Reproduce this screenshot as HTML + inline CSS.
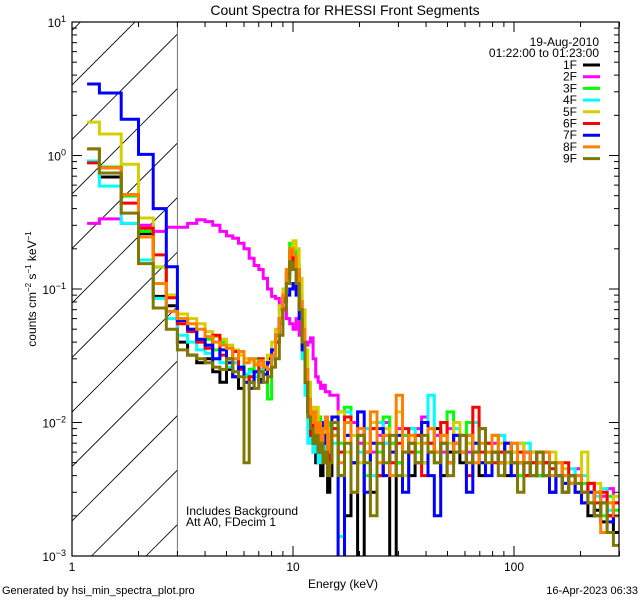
<!DOCTYPE html>
<html><head><meta charset="utf-8"><style>
body{margin:0;background:#fff;}
svg{display:block;font-family:"Liberation Sans",sans-serif;}
</style></head><body>
<svg id="chart" width="640" height="600" viewBox="0 0 640 600">
<rect x="0" y="0" width="640" height="600" fill="#fff"/>
<text x="345" y="15" font-size="14" text-anchor="middle">Count Spectra for RHESSI Front Segments</text>
<g id="hatch"></g>
<g id="series"></g>
<g id="axes"></g>
<text x="343" y="588" font-size="12" text-anchor="middle">Energy (keV)</text>
<text transform="translate(36,289) rotate(-90)" font-size="12" text-anchor="middle">counts cm<tspan font-size="8" dy="-5">−2</tspan><tspan dy="5"> s</tspan><tspan font-size="8" dy="-5">−1</tspan><tspan dy="5"> keV</tspan><tspan font-size="8" dy="-5">−1</tspan></text>
<text x="186" y="515" font-size="12">Includes Background</text>
<text x="186" y="526" font-size="12">Att A0, FDecim 1</text>
<text x="2" y="594" font-size="11">Generated by hsi_min_spectra_plot.pro</text>
<text x="638" y="594" font-size="11" text-anchor="end">16-Apr-2023 06:33</text>
<text x="599" y="46" font-size="12" text-anchor="end">19-Aug-2010</text>
<text x="599" y="57" font-size="12" text-anchor="end">01:22:00 to 01:23:00</text>
<g id="legend"></g>
</svg>
<script>
const seriesNames = ["1F","2F","3F","4F","5F","6F","7F","8F","9F"];
const seriesColors = ["#000000","#ff00ff","#00ff00","#00ffff","#d4d000","#ff0000","#0000ff","#ff8000","#807800"];
const loEdges = [1.17,1.33,1.67,2,2.33,2.67,3];
const hiEdges = [15,16.0,17.1,18.3,19.6,21.0,22.4,24.0,25.6,27.4,29.3,31.3,33.4,35.7,38.2,40.8,43.6,46.6,49.8,53.3,56.9,60.9,65.1,69.5,74.3,79.5,84.9,90.8,97.1,103.7,110.9,118.5,126.7,135.4,144.8,154.7,165.4,176.8,189.0,202.0,215.9,230.8,246.7,263.7,281.8,301];
const xTickLabels = ["1","10","100"];
const yTickExps = ["1","0","−1","−2","−3"];

const lo1F = [0.9,0.69,0.5,0.26,0.088,0.075];
const lo2F = [0.31,0.335,0.31,0.3,0.27,0.29];
const lo3F = [0.91,0.82,0.5,0.27,0.146,0.09];
const lo4F = [0.91,0.59,0.31,0.165,0.085,0.06];
const lo5F = [1.78,1.45,0.86,0.34,0.147,0.09];
const lo6F = [0.88,0.81,0.44,0.285,0.18,0.086];
const lo7F = [3.43,2.94,1.87,1.02,0.40,0.147];
const lo8F = [1.12,0.81,0.51,0.245,0.11,0.068];
const lo9F = [1.12,0.74,0.37,0.155,0.072,0.05];

const mid1F = [0.04,0.032,0.028,0.03,0.024,0.02,0.025,0.022,0.018,0.022,0.02,0.024,0.021,0.025,0.03,0.035,0.045,0.06,0.09,0.13,0.18,0.16,0.13,0.07,0.04,0.02,0.012,0.008,0.006,0.005,0.007,0.004,0.006,0.005,0.003,0.004];
const mid2F = [0.29,0.31,0.33,0.32,0.3,0.27,0.25,0.24,0.22,0.2,0.17,0.15,0.14,0.12,0.1,0.088,0.085,0.07,0.072,0.06,0.055,0.05,0.06,0.045,0.042,0.038,0.04,0.043,0.03,0.022,0.02,0.018,0.019,0.017,0.017,0.016];
const mid3F = [0.06,0.05,0.04,0.042,0.035,0.04,0.03,0.028,0.032,0.022,0.025,0.03,0.024,0.026,0.015,0.03,0.04,0.055,0.08,0.12,0.22,0.2,0.15,0.09,0.05,0.025,0.014,0.01,0.012,0.008,0.011,0.006,0.009,0.007,0.01,0.006];
const mid4F = [0.045,0.04,0.035,0.033,0.03,0.028,0.026,0.028,0.025,0.023,0.024,0.022,0.025,0.028,0.025,0.03,0.04,0.06,0.09,0.14,0.2,0.17,0.12,0.06,0.03,0.016,0.007,0.009,0.006,0.008,0.005,0.007,0.006,0.008,0.005,0.006];
const mid5F = [0.065,0.06,0.055,0.048,0.044,0.042,0.038,0.035,0.032,0.03,0.029,0.028,0.027,0.028,0.032,0.04,0.05,0.075,0.1,0.14,0.2,0.23,0.2,0.12,0.07,0.035,0.02,0.013,0.011,0.013,0.01,0.009,0.01,0.008,0.009,0.007];
const mid6F = [0.055,0.048,0.04,0.036,0.045,0.032,0.03,0.034,0.025,0.02,0.022,0.024,0.03,0.026,0.028,0.032,0.04,0.06,0.085,0.13,0.19,0.17,0.14,0.08,0.045,0.02,0.012,0.008,0.01,0.007,0.009,0.006,0.008,0.007,0.005,0.006];
const mid7F = [0.058,0.05,0.042,0.038,0.03,0.035,0.028,0.022,0.026,0.02,0.018,0.024,0.02,0.023,0.028,0.035,0.045,0.06,0.08,0.09,0.1,0.11,0.09,0.06,0.035,0.02,0.012,0.009,0.007,0.009,0.006,0.01,0.007,0.008,0.006,0.008];
const mid8F = [0.06,0.055,0.05,0.044,0.04,0.038,0.036,0.03,0.034,0.028,0.03,0.027,0.029,0.026,0.025,0.032,0.045,0.06,0.09,0.14,0.2,0.18,0.14,0.08,0.05,0.025,0.015,0.01,0.012,0.008,0.01,0.007,0.009,0.011,0.006,0.008];
const mid9F = [0.035,0.032,0.03,0.028,0.026,0.025,0.03,0.024,0.022,0.005,0.02,0.018,0.024,0.02,0.022,0.026,0.03,0.045,0.07,0.11,0.16,0.14,0.11,0.07,0.04,0.02,0.011,0.009,0.007,0.008,0.006,0.007,0.005,0.006,0.004,0.005];

const hi1F = [0.008,0.004,0.002,0.005,0.0008,0.006,0.003,0.004,0.007,0.0008,0.005,0.006,0.004,0.008,0.005,0.006,0.009,0.004,0.006,0.007,0.005,0.008,0.006,0.004,0.007,0.006,0.005,0.004,0.006,0.005,0.004,0.006,0.004,0.005,0.003,0.004,0.003,0.0035,0.003,0.0025,0.002,0.0022,0.0018,0.002,0.0015];
const hi2F = [0.016,0.012,0.008,0.01,0.007,0.009,0.006,0.008,0.01,0.007,0.009,0.008,0.006,0.009,0.011,0.007,0.008,0.006,0.009,0.007,0.008,0.006,0.007,0.009,0.006,0.007,0.008,0.006,0.005,0.007,0.006,0.005,0.006,0.005,0.004,0.005,0.004,0.004,0.0045,0.003,0.0035,0.003,0.0028,0.0032,0.0025];
const hi3F = [0.01,0.007,0.013,0.005,0.008,0.004,0.009,0.006,0.011,0.007,0.005,0.008,0.009,0.006,0.01,0.007,0.005,0.008,0.012,0.006,0.008,0.01,0.007,0.005,0.006,0.008,0.006,0.005,0.007,0.004,0.006,0.005,0.004,0.006,0.004,0.005,0.0035,0.004,0.003,0.0035,0.0025,0.003,0.002,0.0028,0.0022];
const hi4F = [0.007,0.0014,0.012,0.008,0.006,0.009,0.004,0.01,0.007,0.005,0.008,0.006,0.009,0.005,0.007,0.016,0.006,0.008,0.005,0.009,0.006,0.007,0.01,0.005,0.007,0.006,0.008,0.005,0.006,0.005,0.007,0.004,0.005,0.006,0.004,0.005,0.004,0.0045,0.0035,0.004,0.003,0.0028,0.0032,0.0022,0.0025];
const hi5F = [0.009,0.012,0.006,0.008,0.005,0.007,0.01,0.005,0.009,0.006,0.012,0.004,0.008,0.007,0.005,0.009,0.006,0.008,0.007,0.01,0.006,0.007,0.005,0.009,0.006,0.008,0.007,0.005,0.006,0.007,0.005,0.006,0.005,0.004,0.006,0.005,0.0045,0.004,0.0035,0.006,0.003,0.0035,0.003,0.0025,0.0028];
const hi6F = [0.009,0.006,0.011,0.005,0.008,0.006,0.009,0.004,0.008,0.005,0.007,0.009,0.006,0.008,0.004,0.007,0.006,0.01,0.005,0.008,0.006,0.004,0.013,0.006,0.007,0.005,0.006,0.007,0.005,0.006,0.004,0.005,0.006,0.005,0.0045,0.004,0.005,0.0035,0.004,0.003,0.0035,0.0025,0.003,0.002,0.0025];
const hi7F = [0.011,0.0006,0.008,0.005,0.012,0.003,0.007,0.009,0.004,0.006,0.008,0.003,0.007,0.005,0.01,0.004,0.002,0.007,0.005,0.008,0.006,0.003,0.007,0.005,0.004,0.006,0.005,0.007,0.004,0.005,0.006,0.004,0.005,0.004,0.003,0.004,0.0035,0.004,0.003,0.0025,0.003,0.002,0.0025,0.0018,0.002];
const hi8F = [0.008,0.005,0.01,0.003,0.009,0.006,0.012,0.005,0.008,0.004,0.016,0.006,0.008,0.005,0.007,0.009,0.006,0.008,0.005,0.007,0.006,0.008,0.005,0.007,0.006,0.008,0.005,0.006,0.007,0.005,0.006,0.004,0.005,0.006,0.004,0.005,0.004,0.0035,0.004,0.003,0.0025,0.003,0.0015,0.0025,0.002];
const hi9F = [0.01,0.004,0.007,0.003,0.008,0.005,0.002,0.007,0.005,0.008,0.004,0.006,0.007,0.005,0.008,0.006,0.005,0.007,0.004,0.006,0.008,0.005,0.006,0.009,0.005,0.006,0.004,0.006,0.005,0.003,0.005,0.004,0.006,0.004,0.005,0.004,0.003,0.004,0.0035,0.003,0.0025,0.002,0.0025,0.0015,0.0012];

const loSeries = [lo1F,lo2F,lo3F,lo4F,lo5F,lo6F,lo7F,lo8F,lo9F];
const midSeries = [mid1F,mid2F,mid3F,mid4F,mid5F,mid6F,mid7F,mid8F,mid9F];
const hiSeries = [hi1F,hi2F,hi3F,hi4F,hi5F,hi6F,hi7F,hi8F,hi9F];

const NS = "http://www.w3.org/2000/svg";
const X0 = 72, X1 = 619, Y0 = 22, Y1 = 556;
const DEC_X = 221, DEC_Y = 133.5;
function xScale(e){ return X0 + DEC_X * Math.log10(e); }
function yScale(v){ return Y0 + (1 - Math.log10(v)) * DEC_Y; }
function mk(tag, attrs, parent){ const el = document.createElementNS(NS, tag); for (const k in attrs) el.setAttribute(k, attrs[k]); parent.appendChild(el); return el; }

// edges
const midEdges = [];
for (let i = 0; i <= 36; i++) midEdges.push(3 + i / 3);
const allEdges = loEdges.concat(midEdges.slice(1), hiEdges.slice(1));

const svg = document.getElementById('chart');
const defs = mk('defs', {}, svg);
const cp = mk('clipPath', {id: 'plotclip'}, defs);
mk('rect', {x: X0, y: Y0, width: X1 - X0, height: Y1 - Y0}, cp);
const cp2 = mk('clipPath', {id: 'hatchclip'}, defs);
mk('rect', {x: X0, y: Y0, width: xScale(3) - X0, height: Y1 - Y0}, cp2);

// hatch
const hatch = document.getElementById('hatch');
hatch.setAttribute('clip-path', 'url(#hatchclip)');
for (let c = 157 - 54.5 * 3; c < 800; c += 54.5) {
  const ln = mk('line', {x1: c - Y1, y1: Y1, x2: c - Y0 + 0, y2: Y0, stroke: '#000', 'stroke-width': 0.8}, hatch);
  
  
}
const vline = mk('line', {x1: xScale(3), y1: Y0, x2: xScale(3), y2: Y1, stroke: '#000', 'stroke-width': 1}, hatch);



// series
const sg = document.getElementById('series');
sg.setAttribute('clip-path', 'url(#plotclip)');
for (let s = 0; s < seriesNames.length; s++) {
  const vals = loSeries[s].concat(midSeries[s], hiSeries[s]);
  let d = '';
  for (let i = 0; i < vals.length; i++) {
    const y = yScale(Math.max(vals[i], 0.0007));
    const xa = xScale(allEdges[i]), xb = xScale(allEdges[i + 1]);
    d += (i === 0 ? 'M' : 'L') + xa.toFixed(1) + ',' + y.toFixed(1) + 'L' + xb.toFixed(1) + ',' + y.toFixed(1);
  }
  const p = mk('path', {d: d, fill: 'none', stroke: seriesColors[s], 'stroke-width': 3, 'stroke-linejoin': 'miter'}, sg);
  
  
}

// axes
const ax = document.getElementById('axes');
const frame = mk('rect', {x: X0, y: Y0, width: X1 - X0, height: Y1 - Y0, fill: 'none', stroke: '#000', 'stroke-width': 1.2}, ax);


for (let dec = 0; dec < 3; dec++) {
  for (let m = 1; m <= 9; m++) {
    const e = m * Math.pow(10, dec);
    if (e > 300) continue;
    const x = xScale(e);
    const len = m === 1 ? 10 : 5;
    const t1 = mk('line', {x1: x, y1: Y1, x2: x, y2: Y1 - len, stroke: '#000'}, ax);
    
    
    const t2 = mk('line', {x1: x, y1: Y0, x2: x, y2: Y0 + len, stroke: '#000'}, ax);
    
    
  }
}
xTickLabels.forEach((lab, i) => {
  const t = mk('text', {x: xScale(Math.pow(10, i)), y: 571, 'font-size': 12, 'text-anchor': 'middle'}, ax);
  t.textContent = lab;
  
  
});
for (let dec = -3; dec < 1; dec++) {
  for (let m = 1; m <= 9; m++) {
    const v = m * Math.pow(10, dec);
    const y = yScale(v);
    const len = m === 1 ? 10 : 5;
    const t1 = mk('line', {x1: X0, y1: y, x2: X0 + len, y2: y, stroke: '#000'}, ax);
    
    
    const t2 = mk('line', {x1: X1, y1: y, x2: X1 - len, y2: y, stroke: '#000'}, ax);
    
    
  }
}
yTickExps.forEach((ex, i) => {
  const y = Y0 + i * DEC_Y;
  const t = mk('text', {x: 66, y: y + 5, 'font-size': 12, 'text-anchor': 'end'}, ax);
  t.innerHTML = '10<tspan font-size="9" dy="-5">' + ex + '</tspan>';
  
  
});

// legend
const lg = document.getElementById('legend');
seriesNames.forEach((n, i) => {
  const y = 65 + i * 11.7;
  const g = mk('g', {}, lg);
  
  
  const t = mk('text', {x: 577, y: y + 4, 'font-size': 12, 'text-anchor': 'end'}, g);
  t.textContent = n;
  mk('line', {x1: 583, y1: y, x2: 600, y2: y, stroke: seriesColors[i], 'stroke-width': 3}, g);
});
</script>
</body></html>
